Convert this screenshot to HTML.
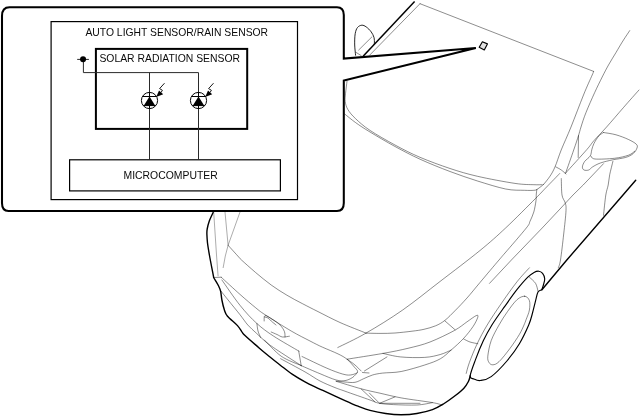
<!DOCTYPE html>
<html><head><meta charset="utf-8"><title>Auto light sensor / rain sensor</title>
<style>
html,body{margin:0;padding:0;background:#fff;}
body{width:641px;height:416px;overflow:hidden;position:relative;}
svg{position:absolute;left:0;top:0;display:block;filter:grayscale(1);}
text{font-family:"Liberation Sans",Arial,Helvetica,sans-serif;}
</style></head><body>
<svg width="641" height="416" viewBox="0 0 641 416">
<rect width="641" height="416" fill="#fff"/>
<g fill="none" stroke="#000" stroke-width="0.45" stroke-linecap="round" stroke-linejoin="round">
<path d="M420.0 3.7L369.5 55.3 M420.0 3.7L593.6 71.4 M593.6 71.4C593.4 72.0 593.9 71.1 592.2 75.0C590.5 78.9 587.0 86.3 583.5 95.0C580.0 103.7 574.7 117.8 571.0 127.0C567.3 136.2 563.9 143.3 561.2 150.0C558.5 156.7 556.9 162.5 555.0 166.9C553.1 171.3 551.9 173.3 550.0 176.2C548.1 179.1 544.8 183.0 543.7 184.3 M358.7 50.0L371.9 36.9 M356.2 52.5L361.2 55.6 M347.0 81.2C346.8 83.3 345.8 90.3 345.5 93.7C345.2 97.1 344.8 98.9 345.2 101.5C345.6 104.1 346.1 106.5 347.8 109.4C349.5 112.3 351.9 115.2 355.6 118.7C359.3 122.2 363.4 126.0 370.0 130.4C376.6 134.8 386.7 140.5 395.0 145.0C403.3 149.5 410.8 153.4 420.0 157.3C429.2 161.2 440.4 165.3 450.0 168.5C459.6 171.7 466.7 173.8 477.5 176.3C488.3 178.8 505.6 182.0 515.0 183.4C524.4 184.8 529.3 184.5 533.8 184.7C538.3 184.9 540.8 184.7 542.2 184.7 M344.7 114.0C346.5 115.4 351.4 119.6 355.6 122.6C359.8 125.6 363.4 128.0 370.0 132.0C376.6 136.0 386.7 142.0 395.0 146.5C403.3 151.0 410.8 155.0 420.0 159.2C429.2 163.4 440.4 167.9 450.0 171.5C459.6 175.1 468.2 178.1 477.5 181.0C486.8 183.9 497.8 187.4 505.6 189.0C513.4 190.6 519.7 190.1 524.4 190.3C529.1 190.5 531.7 190.5 533.8 190.3C535.9 190.2 535.8 190.0 537.0 189.4C538.2 188.8 539.9 187.3 541.0 186.5C542.1 185.7 543.2 184.7 543.7 184.3 M629.7 30.6C628.7 32.2 625.8 36.4 623.5 40.0C621.2 43.6 618.5 48.3 616.0 52.5C613.5 56.7 610.8 60.9 608.5 65.0C606.2 69.1 604.5 72.4 602.2 77.0C599.9 81.6 597.4 86.6 594.7 92.5C592.0 98.4 588.3 106.8 586.0 112.5C583.7 118.2 582.2 123.2 581.0 127.0C579.8 130.8 579.7 131.8 578.5 135.6C577.3 139.4 575.9 143.8 573.7 150.0C571.6 156.2 567.0 169.2 565.6 173.1 M578.5 135.6L578.2 157.5 M555.8 166.9C556.7 167.4 559.6 168.8 561.3 170.0C563.0 171.2 565.2 173.3 566.0 174.0 M639.0 90.0C636.4 92.9 628.9 101.3 623.5 107.5C618.1 113.7 611.5 121.5 606.6 127.0C601.7 132.5 597.3 136.8 594.0 140.6C590.7 144.3 591.6 144.1 586.9 149.5C582.2 154.9 569.1 169.2 565.6 173.1 M559.7 173.5C557.5 175.8 550.7 182.8 546.6 187.0C542.5 191.2 542.0 192.0 535.2 198.8C528.4 205.6 514.8 219.4 505.6 228.0C496.4 236.6 490.9 241.6 480.0 250.5C469.1 259.4 452.9 271.6 440.0 281.5C427.1 291.4 415.0 301.4 402.7 310.0C390.4 318.6 376.8 326.9 366.0 333.1C355.2 339.4 342.5 345.1 337.8 347.5 M603.5 132.5C605.6 132.9 611.8 133.6 616.0 134.8C620.2 136.0 625.1 137.9 628.5 139.5C631.9 141.1 634.9 142.8 636.3 144.2C637.7 145.6 637.5 146.4 637.0 148.0C636.5 149.6 635.1 152.0 633.2 153.6C631.3 155.2 628.8 156.5 625.4 157.5C622.0 158.5 617.1 158.9 612.9 159.8C608.7 160.7 603.8 161.8 600.4 163.0C597.0 164.2 594.5 165.7 592.6 166.9C590.7 168.1 590.1 169.5 588.7 170.0C587.3 170.5 585.0 170.5 584.0 170.0C583.0 169.5 582.3 168.3 582.4 166.9C582.5 165.5 583.4 163.2 584.7 161.4C586.0 159.6 589.0 157.9 590.2 156.0C591.4 154.1 591.2 151.8 591.8 149.7C592.4 147.6 592.8 145.7 594.0 143.4C595.2 141.1 597.2 137.8 598.8 136.0C600.4 134.2 602.7 133.1 603.5 132.5 M591.0 156.0C591.7 156.5 591.1 158.6 595.0 159.0C598.9 159.4 608.8 158.9 614.4 158.3C620.0 157.7 625.1 156.4 628.5 155.2C631.9 154.0 633.7 151.9 634.7 151.2 M612.9 161.4C612.4 163.6 610.5 170.8 609.7 174.7C608.9 178.6 608.9 181.6 608.2 185.0C607.6 188.4 606.6 189.9 605.8 195.0C605.0 200.1 603.9 211.9 603.5 215.3 M603.5 163.7L583.2 185.0L573.0 195.0L560.0 209.0L542.2 228.0L511.4 260.0L489.5 283.4 M561.3 178.6C561.4 181.3 561.4 191.0 562.0 195.0C562.6 199.0 564.5 200.2 565.2 202.8C565.9 205.4 566.2 205.4 566.0 210.6C565.8 215.8 564.6 225.8 563.7 234.0C562.8 242.2 561.4 254.4 560.5 260.0C559.6 265.6 558.7 266.5 558.3 267.8 M536.9 189.4C536.8 190.2 536.4 192.1 536.3 194.0C536.1 195.9 536.4 197.6 536.0 200.6C535.6 203.6 534.8 208.6 533.8 212.0C532.8 215.4 531.2 218.6 530.0 221.3C528.8 224.0 530.5 222.7 526.3 228.0C522.1 233.3 509.6 247.7 505.0 253.0C500.4 258.3 503.2 255.1 499.0 260.0C494.8 264.9 485.3 276.2 480.0 282.5C474.7 288.8 471.1 293.4 467.0 298.0C462.9 302.6 459.2 306.5 455.5 310.2C451.8 313.9 448.3 317.7 445.0 320.3C441.7 322.9 439.1 324.3 435.6 325.8C432.1 327.3 427.9 328.4 424.0 329.3C420.1 330.2 416.8 330.6 412.0 331.2C407.2 331.8 400.3 332.6 395.0 333.0C389.7 333.4 384.8 333.4 380.0 333.4C375.2 333.4 368.3 333.2 366.0 333.1 M228.1 245.3C229.9 247.2 236.5 254.6 238.7 257.0C240.9 259.4 238.7 257.4 241.5 260.0C244.3 262.6 250.7 268.3 255.6 272.5C260.6 276.7 266.0 281.2 271.2 285.0C276.4 288.8 281.7 292.1 286.9 295.2C292.1 298.3 297.3 301.0 302.5 303.7C307.7 306.4 311.8 308.5 318.0 311.6C324.2 314.7 332.0 318.9 340.0 322.5C348.0 326.1 361.7 331.3 366.0 333.1 M213.7 277.5L221.2 277.2 M221.2 277.2C224.3 280.1 234.3 289.3 240.0 294.4C245.7 299.5 251.4 304.3 255.6 307.7C259.8 311.1 259.1 310.8 265.0 314.7C270.9 318.6 283.7 326.6 291.2 331.0C298.7 335.4 304.8 338.3 310.0 341.0C315.2 343.7 317.8 345.1 322.5 347.2C327.2 349.3 333.9 351.9 338.0 353.9C342.1 355.9 344.4 357.1 347.2 359.4C350.0 361.7 353.3 365.9 355.0 367.8C356.7 369.7 357.0 369.6 357.3 370.5C357.6 371.4 357.8 372.2 356.6 373.0C355.4 373.8 352.7 374.8 350.3 375.0C347.9 375.2 346.4 375.1 342.5 374.0C338.6 372.9 333.6 371.1 326.9 368.2C320.1 365.3 306.1 358.4 302.0 356.5 M221.9 280.0C224.9 284.2 234.2 298.1 240.0 305.3C245.8 312.6 251.3 318.4 256.9 323.5C262.5 328.6 266.7 331.6 273.7 336.2C280.7 340.8 294.8 348.7 299.0 351.2 M220.6 290.6C221.8 292.2 224.9 296.0 228.1 300.0C231.3 304.0 236.7 310.5 240.0 314.7C243.3 318.9 245.1 321.9 247.8 325.0C250.5 328.1 253.3 330.3 256.2 333.0C259.1 335.7 261.8 338.5 265.0 341.2C268.2 343.9 269.6 344.9 275.6 349.0C281.6 353.1 296.9 362.8 301.2 365.6 M256.9 323.5C257.1 324.8 257.4 328.7 258.0 331.0C258.6 333.3 260.2 336.4 260.6 337.5 M298.7 351.0L301.2 365.6 M264.4 340.0C267.2 342.7 275.1 351.9 281.2 356.2C287.3 360.5 297.9 364.0 301.2 365.6 M301.2 365.6C304.3 367.0 314.2 371.3 320.0 373.7C325.8 376.1 332.0 378.9 336.2 380.0C340.4 381.1 342.3 381.0 345.0 380.6C347.7 380.2 350.4 378.9 352.5 377.5C354.6 376.1 356.7 373.3 357.5 372.5 M336.2 381.3C340.4 382.6 353.9 386.8 361.2 388.8C368.5 390.8 373.3 391.7 380.0 393.2C386.7 394.7 392.4 396.3 401.2 397.9C409.9 399.5 425.7 401.4 432.5 402.6C439.3 403.8 440.3 404.6 441.9 405.0 M280.6 358.7C284.7 360.9 298.4 368.2 305.0 371.9C311.6 375.6 315.0 378.4 320.0 381.0C325.0 383.6 330.8 385.9 335.0 387.6C339.2 389.3 339.2 389.1 345.0 391.2C350.8 393.3 364.4 398.0 370.0 400.0C375.6 402.0 374.8 402.3 378.7 403.1C382.6 403.9 387.0 404.3 393.4 404.6C399.8 404.9 410.4 405.3 416.9 405.0C423.4 404.7 429.9 403.0 432.5 402.6 M361.2 389.0L375.0 401.9 M369.4 393.1L378.7 402.5 M380.0 403.1L395.0 396.9 M379.4 403.3L420.0 403.3 M264.2 321.0C264.3 320.1 263.7 315.9 265.0 315.6C266.3 315.3 269.5 317.4 272.0 319.0C274.5 320.6 277.9 322.9 280.0 325.0C282.1 327.1 283.6 329.5 284.4 331.5C285.2 333.5 284.9 336.1 285.0 337.0 M264.6 317.0C265.2 317.2 266.9 317.3 268.0 318.0C269.1 318.7 269.9 319.8 271.2 321.0C272.5 322.2 275.2 324.3 276.0 325.0 M271.2 332.0C272.2 332.4 275.1 333.7 277.0 334.5C278.9 335.3 280.4 336.7 282.5 337.0C284.6 337.3 288.2 336.3 289.4 336.2 M347.2 359.2C353.2 358.2 372.9 355.2 383.0 353.4C393.1 351.6 400.2 350.2 408.0 348.3C415.8 346.4 422.3 345.0 430.0 342.0C437.7 339.0 448.2 333.9 454.4 330.5C460.5 327.1 463.3 324.4 466.9 321.9C470.5 319.4 474.4 316.4 476.2 315.6C478.0 314.8 478.3 315.4 477.8 317.2C477.3 319.0 475.4 323.1 473.0 326.6C470.6 330.1 467.3 334.4 463.7 338.3C460.1 342.2 455.1 346.6 451.2 350.0C447.3 353.4 444.7 356.3 440.3 358.8C435.9 361.3 431.2 362.9 424.7 365.0C418.2 367.1 408.2 370.1 401.2 371.5C394.2 372.9 387.3 372.5 382.5 373.1C377.7 373.7 375.6 374.1 372.5 375.0C369.4 375.9 366.6 377.5 363.7 378.7C360.8 379.9 358.1 381.8 355.0 382.3C351.9 382.9 348.1 382.2 345.0 382.0C341.9 381.8 337.7 381.3 336.2 381.2 M362.5 372.5L369.0 373.0 M383.0 353.4C385.9 354.0 393.4 356.2 400.3 356.9C407.2 357.6 418.0 357.8 424.7 357.4C431.4 357.0 435.9 355.7 440.3 354.5C444.7 353.3 449.4 350.8 451.2 350.0 M387.0 356.9L364.4 371.0 M445.0 321.0L455.0 329.7 M463.7 339.0C464.8 339.5 467.6 341.2 470.0 342.0C472.4 342.8 476.5 343.4 477.8 343.7 M347.2 359.2C348.5 360.2 352.7 363.0 355.0 365.0C357.3 367.0 360.2 370.0 361.2 371.0 M529.4 267.8C527.3 270.1 521.6 275.9 516.9 281.9C512.2 287.9 506.1 296.5 501.2 303.7C496.2 310.9 491.2 318.3 487.2 325.0C483.2 331.7 480.2 337.4 477.2 343.7C474.2 349.9 471.2 357.6 469.4 362.5C467.6 367.4 466.7 371.6 466.2 373.4 M529.4 277.2C530.4 278.2 534.2 281.1 535.6 283.4C537.0 285.7 537.6 289.9 538.0 291.2 M524.7 296.2C522.6 296.1 519.8 297.2 516.9 299.8C514.0 302.4 510.5 307.4 507.5 311.6C504.5 315.8 501.7 320.2 499.0 325.0C496.3 329.8 493.1 335.4 491.2 340.6C489.3 345.8 488.2 352.6 487.8 356.2C487.4 359.8 488.2 361.1 489.0 362.5C489.8 363.9 491.1 364.9 492.8 364.8C494.5 364.7 496.1 364.4 499.0 361.7C501.9 359.0 506.6 352.9 510.0 348.4C513.4 343.8 517.1 338.3 519.4 334.4C521.7 330.5 522.9 327.5 524.0 325.0C525.1 322.5 525.3 321.9 526.2 319.4C527.1 316.9 528.9 313.1 529.4 310.0C529.9 306.9 530.2 302.9 529.4 300.6C528.6 298.3 526.8 296.3 524.7 296.2Z"/>
</g>
<g fill="none" stroke="#000" stroke-width="1.4" stroke-linecap="round" stroke-linejoin="round">
<path d="M213.1 212.5C212.5 213.9 210.3 218.2 209.3 221.0C208.3 223.8 207.6 226.8 207.2 229.0C206.8 231.2 206.8 232.1 206.9 234.4C207.0 236.7 207.1 239.6 207.5 243.0C207.9 246.4 208.4 249.2 209.4 255.0C210.4 260.8 213.0 273.8 213.7 277.5 M213.7 277.5C214.4 278.8 216.9 282.7 218.1 285.0C219.2 287.3 220.0 288.7 220.6 291.2C221.2 293.7 221.3 296.9 221.9 300.0C222.5 303.1 223.5 307.3 224.4 310.0C225.3 312.7 225.3 313.6 227.5 316.2C229.7 318.8 235.1 323.0 237.5 325.6C239.9 328.2 240.7 330.2 241.9 331.9C243.2 333.6 242.8 333.5 245.0 335.6C247.2 337.7 251.2 341.2 255.0 344.4C258.8 347.6 263.3 351.6 267.5 355.0C271.7 358.4 275.8 361.8 280.0 365.0C284.2 368.2 288.3 371.6 292.5 374.4C296.7 377.2 300.8 379.6 305.0 381.9C309.2 384.2 314.2 386.5 317.5 388.1C320.8 389.7 320.4 389.3 325.0 391.4C329.6 393.5 339.5 398.1 345.0 400.6C350.5 403.1 353.8 404.6 358.0 406.2C362.2 407.8 365.4 409.2 370.0 410.4C374.6 411.6 380.4 412.8 385.6 413.5C390.8 414.2 396.0 414.7 401.2 414.7C406.4 414.7 411.7 414.4 416.9 413.5C422.1 412.6 428.1 411.2 432.5 409.6C436.9 408.0 439.8 406.2 443.4 404.0C447.0 401.8 451.0 398.9 454.4 396.3C457.8 393.7 461.4 391.0 463.7 388.5C466.0 386.0 467.3 383.6 468.4 381.5C469.5 379.4 469.9 376.8 470.2 375.8 M541.9 289.7L566.8 260.0L623.0 195.0L635.7 180.3"/>
</g>

<path d="M213.7 212.0L216.5 255.0L218.1 276.2 M225.0 212.0L228.1 245.3 M240.0 212.0L228.1 245.3L225.3 256.0L223.1 268.0" fill="none" stroke="#000" stroke-width="0.33"/>
<path d="M355.6 55.6C355.5 53.8 354.8 48.6 354.7 45.0C354.6 41.4 354.7 36.6 355.2 33.7C355.7 30.8 356.4 28.9 357.5 27.5C358.6 26.1 360.4 25.3 361.9 25.2C363.3 25.1 364.6 25.8 366.2 26.9C367.8 28.0 369.9 30.1 371.2 31.9C372.5 33.7 373.5 35.6 374.0 37.5C374.5 39.4 374.4 42.0 374.4 43.1C374.3 44.2 373.8 44.2 373.7 44.4" fill="none" stroke="#000" stroke-width="0.85"/>
<path d="M414.6 1.4L363.1 56.2" fill="none" stroke="#000" stroke-width="1.5" stroke-linecap="butt"/>
<path d="M541.9 289.7C542.1 288.9 542.9 286.8 543.4 285.0C543.9 283.2 544.8 280.6 544.7 278.7C544.6 276.8 543.6 274.6 542.6 273.3C541.6 272.1 540.1 271.3 538.7 271.2C537.3 271.1 535.8 271.5 534.0 272.5C532.2 273.5 530.6 274.3 527.8 277.2C524.9 280.1 520.8 284.8 516.9 289.7C513.0 294.6 508.6 301.0 504.4 306.9C500.2 312.8 495.4 319.4 491.9 325.0C488.4 330.6 486.1 334.9 483.4 340.6C480.7 346.3 477.8 353.5 475.6 359.4C473.4 365.3 470.5 372.5 470.2 375.8C469.9 379.1 472.3 378.2 474.0 379.0C475.7 379.8 477.4 380.9 480.3 380.5C483.2 380.1 486.8 379.9 491.2 376.6C495.6 373.4 502.2 366.5 506.9 361.0C511.6 355.5 515.8 349.7 519.4 343.7C523.0 337.7 526.5 330.1 528.7 325.0C530.9 319.9 531.4 317.1 532.5 313.0C533.6 308.9 534.7 304.1 535.6 300.6C536.5 297.1 537.0 293.8 538.0 292.0C539.0 290.2 541.2 290.1 541.9 289.7" fill="none" stroke="#000" stroke-width="1.15" stroke-linejoin="round"/>
<g fill="none" stroke="#000" stroke-linejoin="miter">
<path stroke-width="2.05" fill="#fff" d="M343.8 58.6V15C343.8 10 341.5 7.2 337 7.2H9.5C4.5 7.2 2 10 2 16V203C2 208 4 211 8.5 211H337C341.5 211 343.8 208 343.8 203V80.5L475.8 47.9Z"/>
<rect x="51.1" y="21.6" width="246.4" height="178" stroke-width="1.2"/>
<rect x="95.9" y="48.9" width="151.3" height="80" stroke-width="2"/>
<rect x="69.6" y="159.8" width="210.8" height="31.1" stroke-width="1.2"/>
<path stroke="#2a2a2a" stroke-width="1" d="M77.2 59.4H88.9M83.4 59.3V72.6H198.5V92M149.5 72.6V92M149.5 108.8V159.8M198.5 108.8V159.8"/>
</g>
<circle cx="83.05" cy="59.3" r="3" fill="#000"/>
<g id="pt1">
<circle cx="149.5" cy="100.5" r="8.1" fill="none" stroke="#000" stroke-width="1"/>
<path d="M142.6 96.5H156.4M143.4 105.6H155.6M149.5 92V109" stroke="#000" stroke-width="1" fill="none"/>
<path d="M149.5 96.6L155.3 105.7H143.7Z" fill="#000"/>
<path d="M164.5 83.2L159.6 88.6L162.4 90.3L161 92.5" stroke="#000" stroke-width="0.9" fill="none"/>
<path d="M156.2 97L159 90.4L163.2 94.2Z" fill="#000"/>
</g>
<g id="pt2" transform="translate(49 0)">
<circle cx="149.5" cy="100.5" r="8.1" fill="none" stroke="#000" stroke-width="1"/>
<path d="M142.6 96.5H156.4M143.4 105.6H155.6M149.5 92V109" stroke="#000" stroke-width="1" fill="none"/>
<path d="M149.5 96.6L155.3 105.7H143.7Z" fill="#000"/>
<path d="M164.5 83.2L159.6 88.6L162.4 90.3L161 92.5" stroke="#000" stroke-width="0.9" fill="none"/>
<path d="M156.2 97L159 90.4L163.2 94.2Z" fill="#000"/>
</g>
<path d="M482.4 41.8L487.4 43.9L484.3 50L479.2 47.2Z" fill="#e2e2e2" stroke="#000" stroke-width="1.15" stroke-linejoin="round"/>
<g fill="#0a0a0a">
<text x="85.4" y="35.9" font-size="10.2" textLength="182.7" lengthAdjust="spacingAndGlyphs">AUTO LIGHT SENSOR/RAIN SENSOR</text>
<text x="99.4" y="61.7" font-size="10.2" textLength="140.6" lengthAdjust="spacingAndGlyphs">SOLAR RADIATION SENSOR</text>
<text x="123.5" y="179.2" font-size="10.2" textLength="94.2" lengthAdjust="spacingAndGlyphs">MICROCOMPUTER</text>
</g>

</svg>
</body></html>
